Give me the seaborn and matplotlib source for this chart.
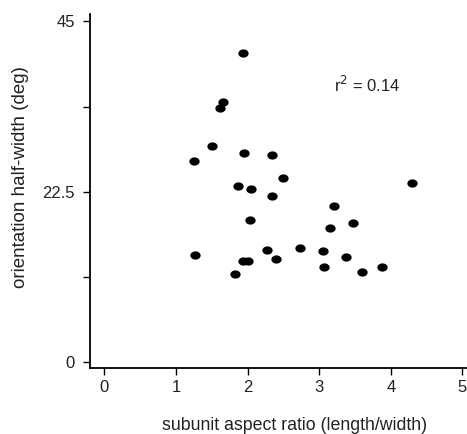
import matplotlib
matplotlib.use('Agg')
import matplotlib.pyplot as plt
import seaborn as sns
import pandas as pd
import numpy as np

# subunit aspect ratio (length/width)
aspect_ratio = [1.93, 1.66, 1.62, 1.50, 1.25, 1.95, 2.34, 2.50, 1.87, 2.05,
                2.34, 4.30, 3.20, 2.03, 3.47, 3.15, 2.27, 2.73, 3.05, 1.26,
                2.40, 3.38, 1.93, 2.00, 1.82, 3.07, 3.59, 3.87]
# orientation half-width (deg)
half_width = [40.8, 34.4, 33.5, 28.6, 26.5, 27.6, 27.4, 24.3, 23.2, 22.9,
              22.0, 23.6, 20.6, 18.7, 18.3, 17.7, 14.8, 15.0, 14.7, 14.1,
              13.6, 13.9, 13.3, 13.3, 11.6, 12.5, 11.9, 12.5]

x_ticks = [0, 1, 2, 3, 4, 5]
y_ticks = [0, 11.25, 22.5, 33.75, 45]
y_tick_labels = ['0', '', '22.5', '', '45']

df = pd.DataFrame({'ratio': aspect_ratio, 'hw': half_width})

sns.set_style('ticks')
plt.rcParams['font.family'] = ['Liberation Sans', 'DejaVu Sans']

# slightly flattened dot, like the printed figure
t = np.linspace(0, 2 * np.pi, 40)
dot = np.column_stack([np.cos(t), 0.8 * np.sin(t)])

fig = plt.figure(figsize=(4.67, 4.34), dpi=100)
ax = fig.add_axes([0.193, 0.152, 0.805, 0.816])

sns.scatterplot(data=df, x='ratio', y='hw', ax=ax, color='black',
                marker=dot, s=55, edgecolor='black', linewidth=0, legend=False)

ax.set_xlim(-0.2, 5.05)
ax.set_ylim(-0.8, 46)
ax.set_xticks(x_ticks)
ax.set_yticks(y_ticks)
ax.set_yticklabels(y_tick_labels)
ax.tick_params(axis='both', labelsize=12, length=5, width=1, color='black',
               labelcolor='#222222')
ax.tick_params(axis='y', pad=6)
ax.set_xlabel('subunit aspect ratio (length/width)', fontsize=12.8,
              color='#222222')
ax.set_ylabel('orientation half-width (deg)', fontsize=13.5, color='#222222')
ax.xaxis.set_label_coords(0.545, -0.138)
ax.yaxis.set_label_coords(-0.163, 0.54)

ax.text(0.648, 0.78, r'r$^2$ = 0.14', transform=ax.transAxes, fontsize=12,
        color='#222222', va='baseline')

sns.despine(ax=ax)
for side in ['left', 'bottom']:
    ax.spines[side].set_linewidth(1.3)
    ax.spines[side].set_color('black')

fig.savefig('out.png', dpi=100)
